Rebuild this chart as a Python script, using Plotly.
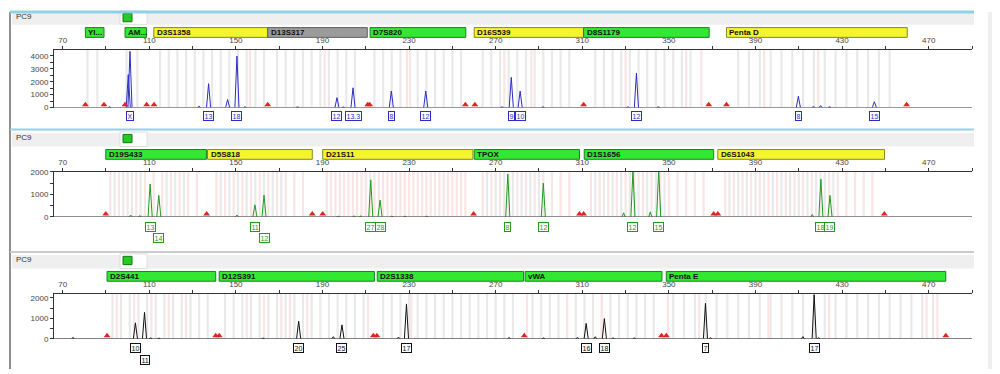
import plotly.graph_objects as go

# ---------------- DATA ----------------
X_TICKS = [70, 90, 110, 130, 150, 170, 190, 210, 230, 250, 270, 290, 310, 330, 350, 370, 390, 410, 430, 450, 470, 490]
X_TICK_LABELS = ["70", "", "110", "", "150", "", "190", "", "230", "", "270", "", "310", "", "350", "", "390", "", "430", "", "470", ""]

# Panel 1 (blue dye)
P1_LOCI = ["YI...", "AM...", "D3S1358", "D13S317", "D7S820", "D16S539", "D8S1179", "Penta D"]
P1_LOCUS_START = [80.5, 98.8, 112.1, 164.7, 212.0, 260.1, 310.6, 376.6]
P1_LOCUS_END = [89.1, 108.7, 164.7, 210.7, 256.2, 310.6, 368.6, 460.1]
P1_LOCUS_KIND = ["g", "g", "y", "k", "g", "y", "g", "y"]
P1_ALLELE_POS = [101.1, 137.4, 150.5, 196.7, 204.1, 221.8, 237.7, 277.2, 281.3, 335.0, 409.8, 444.9]
P1_ALLELE_HT = [4350, 1850, 3980, 770, 1530, 1280, 1280, 2340, 1280, 2660, 880, 450]
P1_ALLELE_LBL = ["X", "13", "18", "12", "13.3", "8", "12", "9", "10", "12", "8", "15"]
P1_ALLELE_ROW = [1, 1, 1, 1, 1, 1, 1, 1, 1, 1, 1, 1]
P1_MINOR_POS = [91.7, 100.3, 133.0, 146.2, 154.2, 178.5, 199.6, 273.0, 291.8, 331.1, 345.1, 416.8, 420.1, 424.2]
P1_MINOR_HT = [60, 2550, 110, 620, 60, 60, 50, 60, 60, 60, 60, 80, 150, 60]
P1_RED = [80.5, 89.1, 98.8, 108.8, 112.2, 164.7, 210.9, 211.8, 256.0, 260.4, 310.6, 368.4, 376.6, 459.8]
P1_BIN_GRAY = [81.5, 86.0, 99.5, 104.5, 115, 119, 123, 127, 131, 135, 139, 143, 147, 151, 155, 159, 163,
               169, 173, 177, 181, 185, 189, 193, 197, 201, 205, 214, 218, 222, 226, 234, 238, 242, 246, 250, 254,
               264, 268, 272, 276, 280, 284, 288, 292, 296, 300, 304, 316, 320, 324, 328, 332, 336, 340, 344,
               348, 352, 356, 360, 382, 387, 392, 397, 402, 407, 412, 417, 422, 427, 432, 437, 442, 447, 452]
P1_BIN_PINK = [156.5, 191, 229, 230.5, 274, 286.5, 330, 358, 365, 394, 419]

# Panel 2 (green dye)
P2_LOCI = ["D19S433", "D5S818", "D21S11", "TPOX", "D1S1656", "D6S1043"]
P2_LOCUS_START = [89.9, 136.9, 190.1, 260.1, 310.9, 372.6]
P2_LOCUS_END = [136.4, 185.3, 259.5, 308.7, 370.7, 449.6]
P2_LOCUS_KIND = ["g", "y", "y", "g", "g", "y"]
P2_ALLELE_POS = [110.4, 114.4, 158.8, 163.0, 212.3, 216.6, 275.6, 292.0, 333.4, 345.3, 420.2, 424.4]
P2_ALLELE_HT = [1465, 957, 535, 970, 1650, 750, 1900, 1500, 2080, 2080, 1680, 957]
P2_ALLELE_LBL = ["13", "14", "11", "12", "27", "28", "8", "12", "12", "15", "18", "19"]
P2_ALLELE_ROW = [1, 2, 1, 2, 1, 1, 1, 1, 1, 1, 1, 1]
P2_MINOR_POS = [101.4, 105.6, 150.5, 197.3, 204.6, 207.7, 222.0, 228.1, 238.1, 329.1, 341.4, 416.2]
P2_MINOR_HT = [80, 50, 80, 30, 40, 40, 30, 30, 30, 180, 220, 100]
P2_RED = [89.9, 136.5, 185.3, 190.1, 259.8, 308.7, 310.6, 370.7, 372.6, 449.5]
P2_BIN_PINK = [92, 96, 100, 104, 108, 112, 116, 120, 124, 128, 132, 141, 145, 149, 153, 157, 161, 165, 169,
               173, 177, 181, 192, 194, 196, 198, 200, 202, 204, 206, 208, 210, 212, 214, 216, 218, 220, 222,
               224, 226, 228, 230, 232, 234, 236, 238, 240, 242, 244, 246, 248, 250, 252, 254, 256, 264, 268,
               272, 276, 280, 284, 288, 292, 296, 300, 304, 314, 318, 322, 326, 330, 334, 338, 342, 346, 350,
               354, 358, 362, 366, 376, 380, 384, 388, 392, 396, 400, 404, 408, 412, 416, 420, 424, 428, 432,
               436, 440, 444]
P2_BIN_GRAY = [94, 98, 102, 106, 118, 122, 126, 143, 147, 151, 155, 159, 163, 167, 171, 266, 270, 274, 278,
               282, 286, 290, 316, 320, 324, 328, 332, 336, 340, 344, 348, 378, 382, 386, 390, 394, 398, 402,
               406, 410, 414, 418, 422, 426]

# Panel 3 (black dye)
P3_LOCI = ["D2S441", "D12S391", "D2S1338", "vWA", "Penta E"]
P3_LOCUS_START = [90.5, 142.3, 215.3, 283.6, 348.8]
P3_LOCUS_END = [140.7, 214.0, 282.9, 346.8, 477.9]
P3_LOCUS_KIND = ["g", "g", "g", "g", "g"]
P3_ALLELE_POS = [103.6, 107.8, 179.0, 199.0, 228.8, 311.8, 320.2, 366.9, 417.1]
P3_ALLELE_HT = [776, 1286, 857, 680, 1700, 750, 985, 1730, 2150]
P3_ALLELE_LBL = ["10", "11", "20", "25", "17", "16", "18", "7", "17"]
P3_ALLELE_ROW = [1, 2, 1, 1, 1, 1, 1, 1, 1]
P3_MINOR_POS = [74.8, 110.6, 114.5, 162.6, 195.0, 225.1, 276.2, 292.1, 307.8, 316.0, 324.2, 334.0, 369.2, 411.9, 419.1]
P3_MINOR_HT = [60, 40, 30, 30, 100, 80, 60, 40, 60, 100, 40, 40, 50, 100, 50]
P3_RED = [90.5, 140.7, 142.3, 213.5, 215.1, 283.2, 346.6, 348.8, 477.9]
P3_BIN_GRAY = [93, 97, 101, 105, 109, 113, 117, 121, 125, 129, 133, 137, 145, 149, 153, 157, 161, 165, 169,
               173, 177, 181, 185, 189, 193, 197, 201, 205, 209, 218, 222, 226, 230, 234, 238, 242, 246, 250,
               254, 258, 262, 266, 270, 274, 278, 287, 291, 295, 299, 303, 307, 311, 315, 319, 323, 327, 331,
               335, 339, 343, 352, 357, 362, 367, 372, 377, 382, 387, 392, 397, 402, 407, 412, 417, 422, 427,
               432, 437, 442, 447, 452, 457, 462, 467, 472]
P3_BIN_PINK = [95, 103, 111, 119, 127, 155, 163, 171, 175, 183, 211, 231, 284.5, 303, 319, 349.5, 364, 396, 424, 469, 474]

Y1_TICKS = [0, 500, 1000, 1500, 2000, 2500, 3000, 3500, 4000]
Y1_LABELS = ["0", "", "1000", "", "2000", "", "3000", "", "4000"]
Y2_TICKS = [0, 500, 1000, 1500, 2000]
Y2_LABELS = ["0", "", "1000", "", "2000"]

# ---------------- STYLE / LAYOUT ----------------
# the page body has an 8px margin, so the figure is placed at (8, 8) in the window
OFF = 8
W, H = 1000 - OFF, 374 - OFF
def px(x): return (x - OFF) / W
def py(y): return 1 - (y - OFF) / H

X_RANGE = [66, 490]
X_DOM = [px(54), px(972)]
FONT = "Liberation Sans, Arial, sans-serif"
LOCUS_STYLE = {"g": ("#33e833", "#1c7f1c"), "y": ("#f5f52e", "#86862a"), "k": ("#9b9b9b", "#5e5e5e")}

panels = [
    dict(loci=P1_LOCI, ls=P1_LOCUS_START, le=P1_LOCUS_END, lk=P1_LOCUS_KIND,
         ap=P1_ALLELE_POS, ah=P1_ALLELE_HT, al=P1_ALLELE_LBL, ar=P1_ALLELE_ROW,
         mp=P1_MINOR_POS, mh=P1_MINOR_HT, red=P1_RED, bg=P1_BIN_GRAY, bp=P1_BIN_PINK,
         color="#2c2cc8", ytop=4450, yt=Y1_TICKS, yl=Y1_LABELS,
         plot=(47, 106), marker_row=(24, 34), lab_rows=(115, 127), header=(8, 21)),
    dict(loci=P2_LOCI, ls=P2_LOCUS_START, le=P2_LOCUS_END, lk=P2_LOCUS_KIND,
         ap=P2_ALLELE_POS, ah=P2_ALLELE_HT, al=P2_ALLELE_LBL, ar=P2_ALLELE_ROW,
         mp=P2_MINOR_POS, mh=P2_MINOR_HT, red=P2_RED, bg=P2_BIN_GRAY, bp=P2_BIN_PINK,
         color="#1f9a1f", ytop=2000, yt=Y2_TICKS, yl=Y2_LABELS,
         plot=(172, 218), marker_row=(149, 159), lab_rows=(228, 240), header=(132, 146)),
    dict(loci=P3_LOCI, ls=P3_LOCUS_START, le=P3_LOCUS_END, lk=P3_LOCUS_KIND,
         ap=P3_ALLELE_POS, ah=P3_ALLELE_HT, al=P3_ALLELE_LBL, ar=P3_ALLELE_ROW,
         mp=P3_MINOR_POS, mh=P3_MINOR_HT, red=P3_RED, bg=P3_BIN_GRAY, bp=P3_BIN_PINK,
         color="#111111", ytop=2190, yt=Y2_TICKS, yl=Y2_LABELS,
         plot=(297, 343), marker_row=(274, 284), lab_rows=(352.5, 364.5), header=(257, 271)),
]

fig = go.Figure()
shapes = []
annotations = []
layout_axes = {}

for i, p in enumerate(panels, start=1):
    xa = "x" if i == 1 else f"x{i}"
    ya = "y" if i == 1 else f"y{i}"
    top_px, bot_px = p["plot"]
    ytop = p["ytop"]
    per_px = ytop / (bot_px - top_px)

    # bins
    fig.add_trace(go.Bar(x=p["bg"], y=[ytop] * len(p["bg"]), width=1.0, marker=dict(color="#e9e9e9", line=dict(width=0)),
                         xaxis=xa, yaxis=ya, hoverinfo="skip"))
    fig.add_trace(go.Bar(x=p["bp"], y=[ytop] * len(p["bp"]), width=1.0, marker=dict(color="#fae4e4", line=dict(width=0)),
                         xaxis=xa, yaxis=ya, hoverinfo="skip"))

    # peaks
    xs, ys = [], []
    for pos, h in list(zip(p["mp"], p["mh"])) + list(zip(p["ap"], p["ah"])):
        hw = 0.95 if h > 300 else 0.7
        xs += [pos - hw, pos, pos + hw, None]
        ys += [0, h, 0, None]
    fig.add_trace(go.Scatter(x=xs, y=ys, mode="lines", line=dict(color=p["color"], width=1),
                             xaxis=xa, yaxis=ya, hoverinfo="skip"))

    # red triangles
    fig.add_trace(go.Scatter(x=p["red"], y=[3 * per_px] * len(p["red"]), mode="markers",
                             marker=dict(symbol="triangle-up", size=6, color="#e52222", line=dict(width=0)),
                             xaxis=xa, yaxis=ya, cliponaxis=False, hoverinfo="skip"))

    # baseline
    shapes.append(dict(type="line", xref=xa, yref=ya, x0=X_RANGE[0], x1=X_RANGE[1], y0=0, y1=0,
                       line=dict(color="#222", width=1), layer="above"))

    # axes
    layout_axes["xaxis" if i == 1 else f"xaxis{i}"] = dict(
        domain=X_DOM, range=X_RANGE, anchor=ya, side="top", showline=True, linecolor="#333", linewidth=1,
        ticks="outside", ticklen=3, tickcolor="#333", tickvals=X_TICKS, ticktext=X_TICK_LABELS,
        tickfont=dict(size=8, color="#444", family=FONT), showgrid=False, zeroline=False, fixedrange=True)
    layout_axes["yaxis" if i == 1 else f"yaxis{i}"] = dict(
        domain=[py(bot_px), py(top_px)], range=[0, ytop], anchor=xa, showline=True, linecolor="#333",
        linewidth=1, ticks="outside", ticklen=3, tickcolor="#333", tickvals=p["yt"], ticktext=p["yl"],
        tickfont=dict(size=8, color="#444", family=FONT), showgrid=False, zeroline=False, fixedrange=True)

    # locus marker boxes
    y0m, y1m = p["marker_row"]
    for name, s, e, k in zip(p["loci"], p["ls"], p["le"], p["lk"]):
        fill, edge = LOCUS_STYLE[k]
        shapes.append(dict(type="rect", xref=xa, yref="paper", x0=s, x1=e, y0=py(y1m), y1=py(y0m),
                           fillcolor=fill, line=dict(color=edge, width=1)))
        annotations.append(dict(x=s, y=py((y0m + y1m) / 2), xref=xa, yref="paper", text="<b>" + name + "</b>",
                                showarrow=False, xanchor="left", yanchor="middle", xshift=1,
                                font=dict(size=8, color="#111", family="Liberation Sans Narrow, Liberation Sans, Arial")))

    # allele labels
    for pos, lbl, row in zip(p["ap"], p["al"], p["ar"]):
        yy = p["lab_rows"][row - 1]
        annotations.append(dict(x=pos, y=py(yy), xref=xa, yref="paper", text=lbl, showarrow=False,
                                xanchor="center", yanchor="middle", font=dict(size=7, color=p["color"], family=FONT),
                                bordercolor=p["color"], borderwidth=1, borderpad=0.5, bgcolor="white"))

    # header strip
    h0, h1 = p["header"]
    shapes.append(dict(type="rect", xref="paper", yref="paper", x0=px(12), x1=px(974), y0=py(h1), y1=py(h0),
                       fillcolor="#efefef", line=dict(width=0), layer="below"))
    shapes.append(dict(type="rect", xref="paper", yref="paper", x0=px(120), x1=px(147), y0=py(h1), y1=py(h0 - 1),
                       fillcolor="white", line=dict(color="#dcdcdc", width=1), layer="below"))
    shapes.append(dict(type="rect", xref="paper", yref="paper", x0=px(123), x1=px(132), y0=py(h0 + 10), y1=py(h0 + 1.5),
                       fillcolor="#22cc22", line=dict(color="#117711", width=1)))
    annotations.append(dict(x=px(14), y=py((h0 + h1) / 2 - 2), xref="paper", yref="paper", text="PC9",
                            showarrow=False, xanchor="left", yanchor="middle",
                            font=dict(size=8, color="#333", family=FONT)))

# frame decorations
shapes += [
    dict(type="rect", xref="paper", yref="paper", x0=px(988), x1=1, y0=0, y1=1, fillcolor="#efefef", line=dict(width=0), layer="below"),
    dict(type="line", xref="paper", yref="paper", x0=px(10), x1=px(10), y0=0, y1=1, line=dict(color="#6a6a6a", width=1.5)),
    dict(type="line", xref="paper", yref="paper", x0=px(10), x1=px(974), y0=1, y1=1, line=dict(color="#8fd3e3", width=3)),
    dict(type="line", xref="paper", yref="paper", x0=px(10), x1=px(974), y0=py(128.5), y1=py(128.5), line=dict(color="#8fd3e3", width=2)),
    dict(type="line", xref="paper", yref="paper", x0=px(10), x1=px(974), y0=py(254), y1=py(254), line=dict(color="#cccccc", width=2)),
]

fig.update_layout(
    width=W, height=H, margin=dict(l=0, r=0, t=0, b=0), paper_bgcolor="white", plot_bgcolor="white",
    showlegend=False, barmode="overlay", shapes=shapes, annotations=annotations, **layout_axes)

fig.write_html("out.html")
